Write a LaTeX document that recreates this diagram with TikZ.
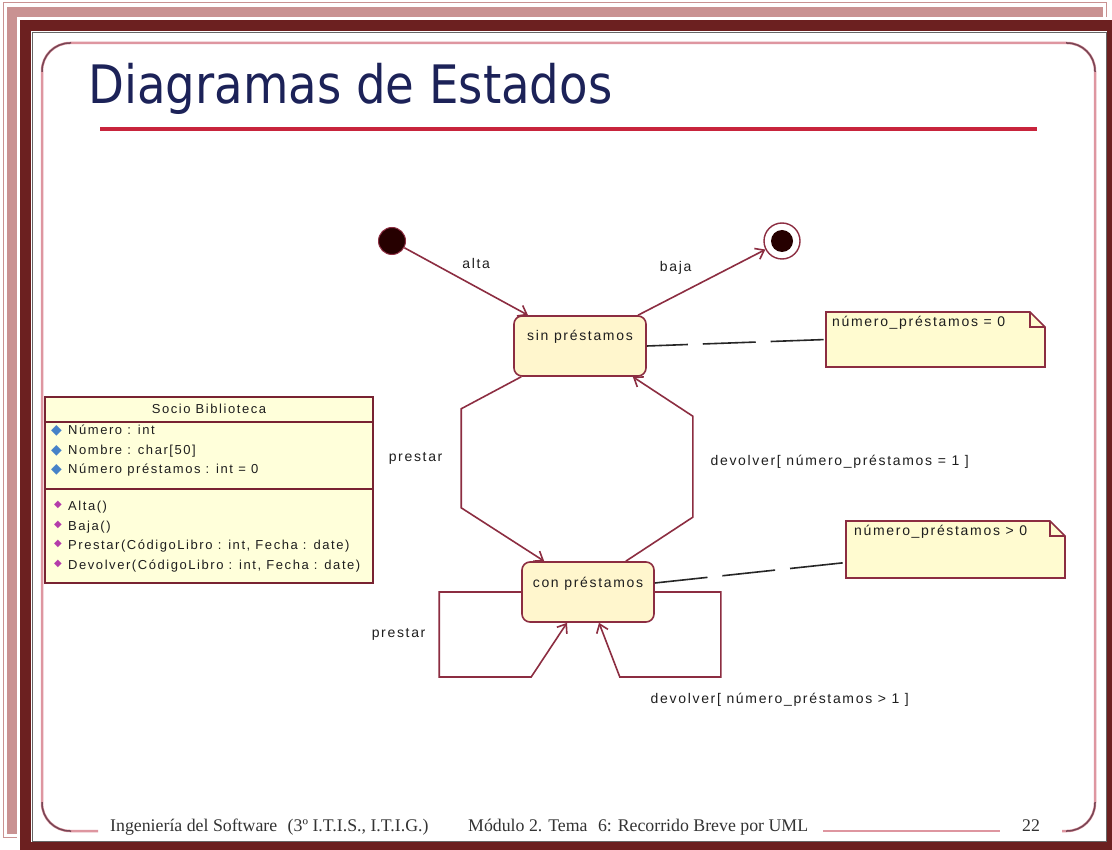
\documentclass[tikz,border=0pt]{standalone}
\usepackage{fontspec}
\usepackage{graphicx}
\setmainfont{Liberation Serif}
\newfontfamily\umlfont[LetterSpace=12]{Liberation Sans}
\newfontfamily\titlefont{DejaVu Sans}
\newfontfamily\symfont{DejaVu Sans}
\usetikzlibrary{arrows.meta,calc}

\definecolor{framepink}{RGB}{201,146,146}
\definecolor{framedark}{RGB}{108,32,32}
\definecolor{slidepink}{RGB}{222,150,160}
\definecolor{slidecorner}{RGB}{120,70,85}
\definecolor{titleblue}{RGB}{28,34,88}
\definecolor{rulered}{RGB}{200,36,60}
\definecolor{umlline}{RGB}{140,45,65}
\definecolor{classline}{RGB}{120,35,50}
\definecolor{statefill}{RGB}{255,246,205}
\definecolor{notefill}{RGB}{255,251,208}
\definecolor{classfill}{RGB}{255,255,218}
\definecolor{umltextcol}{RGB}{30,30,30}
\definecolor{attrblue}{RGB}{70,130,200}
\definecolor{methpurple}{RGB}{180,60,170}

\newcommand{\attrico}{\makebox[17pt][l]{\symfont\fontsize{14}{14}\selectfont\textcolor{attrblue}{◆}}}
\newcommand{\methico}{\makebox[17pt][l]{\hspace{3pt}\raisebox{3pt}{\symfont\fontsize{10}{10}\selectfont\textcolor{methpurple}{◆}}}}

\tikzset{
  umlstate/.style={draw=umlline,fill=statefill,rounded corners=8pt,line width=1.6pt,
    minimum width=132pt,minimum height=60pt,text height=10pt,text depth=20pt,
    font=\umlfont\fontsize{14}{16}\selectfont,text=umltextcol},
  umltext/.style={font=\umlfont\fontsize{14}{16}\selectfont,text=umltextcol,inner sep=1pt},
  classtext/.style={font=\umlfont\fontsize{13}{19.5}\selectfont,text=umltextcol,inner sep=0pt,align=left},
  classbox/.style={draw=classline,fill=classfill,line width=1.6pt,minimum width=328pt,
    minimum height=186pt,inner sep=0pt,outer sep=0pt},
  trans/.style={draw=umlline,line width=1.6pt,-{Straight Barb[length=8pt,width=12pt]}},
  notelink/.style={draw=black!85,line width=1.6pt,dash pattern=on 53pt off 15pt},
  notebody/.style={rectangle,minimum width=219pt,inner sep=0pt,outer sep=0pt},
  noteshape/.style={draw=umlline,fill=notefill,line width=1.6pt},
  footer/.style={font=\fontsize{17.8}{19}\selectfont,text=black!80,inner sep=0pt}
}

\begin{document}
\begin{tikzpicture}[x=1pt,y=-1pt]
  \useasboundingbox (0,0) rectangle (1112,850);
  \fill[white] (0,0) rectangle (1112,850);
  \draw[framepink,line width=1pt] (3,3) rectangle (1106,837);
  \fill[framepink] (7,7) rectangle (1103,834);
  \fill[white] (17,17) rectangle (1112,850);
  \fill[framedark] (20,20) rectangle (1112,850);
  \fill[white] (31,31) rectangle (1107,842);
  \draw[black!60,line width=0.8pt] (32,32) rectangle (1106,841);

  \draw[slidepink,line width=2.5pt,rounded corners=28pt] (98,831) -- (42,831) -- (42,43) -- (1095,43) -- (1095,831) -- (1062,831);
  \draw[slidepink,line width=2.5pt] (823,831) -- (1000,831);
  \draw[slidecorner,line width=1.5pt,rounded corners=28pt] (42,72) -- (42,43) -- (71,43);
  \draw[slidecorner,line width=1.5pt,rounded corners=28pt] (1066,43) -- (1095,43) -- (1095,72);
  \draw[slidecorner,line width=1.5pt,rounded corners=28pt] (42,802) -- (42,831) -- (71,831);
  \draw[slidecorner,line width=1.5pt,rounded corners=28pt] (1095,802) -- (1095,831) -- (1066,831);

  \node (title) [anchor=base west,inner sep=0pt,text=titleblue,font=\titlefont\fontsize{53}{60}\selectfont] at (88,104) {\scalebox{0.88}[1]{Diagramas de Estados}};
  \draw[rulered,line width=4pt] (100,129) -- (1037,129);

  \node (socio) [classbox] at (209,490) {};
  \node (sociotitle) [classtext] at (209,409) {Socio Biblioteca};
  \draw[classline,line width=1.6pt] ([yshift=-25pt]socio.north west) -- ([yshift=-25pt]socio.north east);
  \draw[classline,line width=1.6pt] ([yshift=-92pt]socio.north west) -- ([yshift=-92pt]socio.north east);
  \node (socioattrs) [classtext,anchor=north west] at (51,425) {\attrico Número : int\\ \attrico Nombre : char[50]\\ \attrico Número préstamos : int = 0};
  \node (sociomethods) [classtext,anchor=north west] at (51,501) {\methico Alta()\\ \methico Baja()\\ \methico Prestar(CódigoLibro : int, Fecha : date)\\ \methico Devolver(CódigoLibro : int, Fecha : date)};

  \node (ini) [circle,fill=black!85!red,draw=umlline,line width=1pt,minimum size=27pt,inner sep=0pt] at (392,241) {};
  \node (fin) [circle,fill=white,draw=umlline,line width=1.4pt,minimum size=36pt,inner sep=0pt] at (782,241) {};
  \node (fincore) [circle,fill=black!85!red,minimum size=22pt,inner sep=0pt] at (fin) {};

  \node (sin) [umlstate] at (580,346) {sin préstamos};
  \node (con) [umlstate] at (588,592) {con préstamos};

  \node (notesin) [notebody,minimum height=55pt] at (935.5,339.5) {};
  \draw[noteshape] (notesin.south west) -- (notesin.north west) -- ($(notesin.north east)+(-15,0)$) -- ($(notesin.north east)+(0,15)$) -- (notesin.south east) -- cycle;
  \draw[umlline,line width=1.6pt] ($(notesin.north east)+(-15,0)$) -- ++(0,15) -- ++(15,0);
  \node (notesintext) [umltext,anchor=west] at ($(notesin.north west)+(5,11)$) {número\_préstamos = 0};

  \node (notecon) [notebody,minimum height=57pt] at (955.5,549.5) {};
  \draw[noteshape] (notecon.south west) -- (notecon.north west) -- ($(notecon.north east)+(-15,0)$) -- ($(notecon.north east)+(0,15)$) -- (notecon.south east) -- cycle;
  \draw[umlline,line width=1.6pt] ($(notecon.north east)+(-15,0)$) -- ++(0,15) -- ++(15,0);
  \node (notecontext) [umltext,anchor=west] at ($(notecon.north west)+(7,11)$) {número\_préstamos > 0};

  \draw[trans] (ini) -- ([xshift=-52pt]sin.north) node [midway,xshift=10pt,yshift=18pt,umltext] {alta};
  \draw[trans] ([xshift=58pt]sin.north) -- (fin) node [midway,xshift=-26pt,yshift=15pt,umltext] {baja};
  \draw[trans] ([xshift=8pt]sin.south west) -- ++(-60,32) -- ++(0,99) node [midway,left=17pt,umltext] {prestar} -- ([xshift=23pt]con.north west);
  \draw[trans] ([xshift=-29pt]con.north east) -- ++(67,-44) -- ++(0,-101) node [midway,right=16pt,yshift=5pt,umltext] {devolver[ número\_préstamos = 1 ]} -- ([xshift=-14pt]sin.south east);
  \draw[trans] (con.west) -- ++(-82,0) -- ++(0,85) node [midway,left=12pt,umltext] {prestar} -- ++(92,0) -- ([xshift=-21pt]con.south);
  \draw[trans] (con.east) -- ++(66,0) -- ++(0,85) node [at end,xshift=59pt,yshift=-23pt,umltext] {devolver[ número\_préstamos > 1 ]} -- ++(-101,0) -- ([xshift=11pt]con.south);

  \draw[notelink,dash phase=12pt] (sin.east) -- (notesin.west);
  \draw[notelink] ([yshift=9pt]con.east) -- ([yshift=-13pt]notecon.west);

  \node (footleft) [footer,anchor=base west] at (110,831) {Ingeniería del Software\hspace{6pt} (3º I.T.I.S., I.T.I.G.)};
  \node (footmid) [footer,anchor=base west] at (468,831) {Módulo 2. Tema\hspace{6pt} 6: Recorrido Breve por UML};
  \node (footpage) [footer,anchor=base] at (1031,831) {22};
\end{tikzpicture}
\end{document}
